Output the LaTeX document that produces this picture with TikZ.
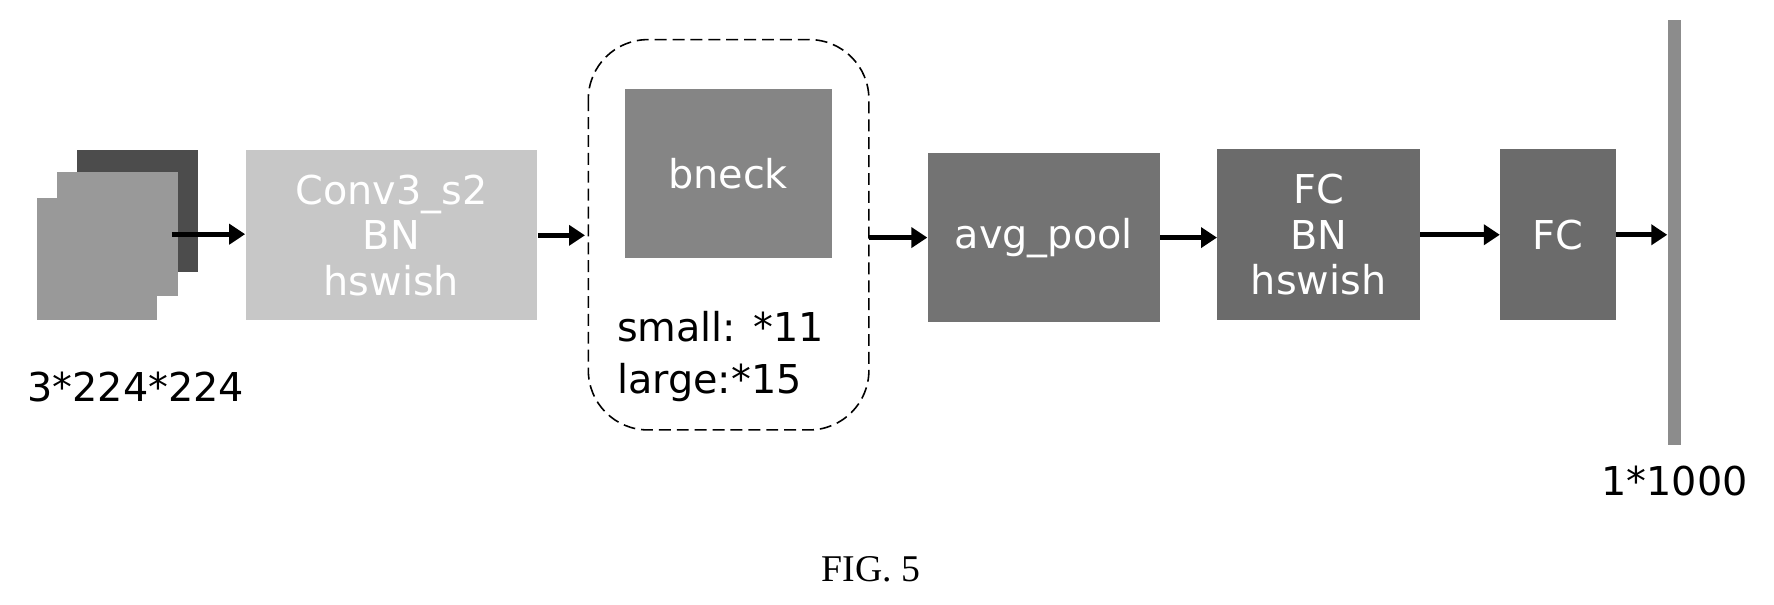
\documentclass[tikz,border=0pt]{standalone}
\usepackage{fontspec}
\setmainfont{DejaVu Sans}
\newfontfamily\figfont{Liberation Serif}
\usetikzlibrary{arrows.meta}

\tikzset{
  layer/.style={draw=none,fill=#1,text=white,align=center,inner sep=0pt,font=\fontsize{20}{23}\selectfont},
  flow/.style={line width=2.4pt,-{Triangle[length=8pt,width=10pt]}},
  lbl/.style={font=\fontsize{20}{24}\selectfont,inner sep=0pt}
}

\begin{document}
\begin{tikzpicture}[x=0.02cm,y=-0.02cm]

  \useasboundingbox (0,0) rectangle (1568,534);

  %% Input feature maps
  \fill[black!70] (68,133) rectangle (175,240);
  \fill[black!40] (50,152) rectangle (157,262);
  \node[layer=black!40,minimum width=106*0.02cm,minimum height=108*0.02cm] (img) at (86,229) {};
  \node[lbl] (imgtxt) at (120,342) {3*224*224};

  %% Layers
  \node[layer=black!22,minimum width=258*0.02cm,minimum height=150*0.02cm] (conv) at (346,208) {Conv3\_s2\\BN\\hswish};
  \draw[dash pattern=on 6pt off 3pt,rounded corners=30pt,thick] (520,35) rectangle (768,380);
  \node[layer=black!48,minimum width=183*0.02cm,minimum height=149*0.02cm] (bneck) at (643.5,153.5) {bneck};
  \node[lbl,anchor=west,align=left] (reps) at (545,315) {small: *11\\[2pt]large:*15};
  \node[layer=black!55,minimum width=205*0.02cm,minimum height=150*0.02cm] (pool) at (922.5,210) {avg\_pool};
  \node[layer=black!58,minimum width=179*0.02cm,minimum height=151*0.02cm] (fc1) at (1165.5,207.5) {FC\\BN\\hswish};
  \node[layer=black!58,minimum width=102*0.02cm,minimum height=151*0.02cm] (fc2) at (1377,207.5) {FC};
  \node[layer=black!45,minimum width=12*0.02cm,minimum height=375*0.02cm] (out) at (1480,205.5) {};
  \node[lbl] (outtxt) at (1480,425) {1*1000};

  %% Arrows
  \coordinate (a0) at (152,207);
  \coordinate (b0) at (517,208);
  \coordinate (c0) at (768,210);
  \draw[flow] (a0) -- (conv.west |- a0);
  \draw[flow] (conv.east |- b0) -- (b0);
  \draw[flow] (c0) -- (pool.west |- c0);
  \draw[flow] (pool.east |- c0) -- (fc1.west |- c0);
  \draw[flow] (fc1.east) -- (fc2.west);
  \draw[flow] (fc2.east) -- (out.west |- fc2.east);

  \node[font=\figfont\fontsize{19}{22}\selectfont] (cap) at (770,503) {FIG. 5};

\end{tikzpicture}
\end{document}
